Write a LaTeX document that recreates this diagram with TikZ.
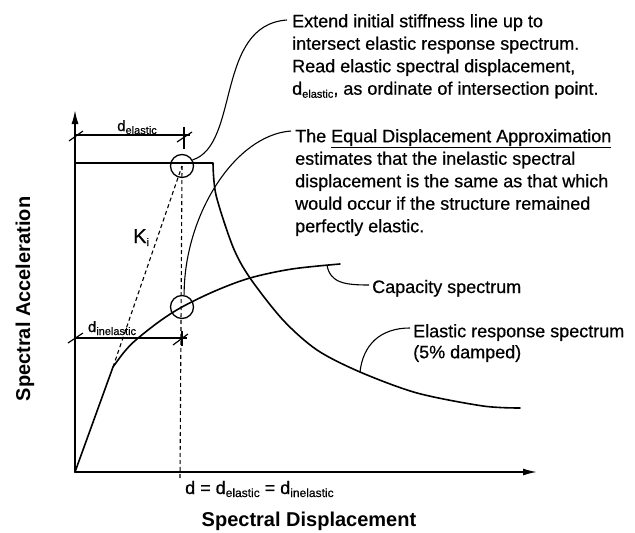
\documentclass[tikz,border=0pt]{standalone}
\usepackage{fontspec}
\setmainfont{Liberation Sans}
\newfontfamily\heavy{Liberation Sans}[FakeBold=0.6]
\usetikzlibrary{arrows.meta,calc}
\newcommand\dlabel[3][15]{{\fontsize{#1}{#1}\selectfont d}\raisebox{-3pt}{\fontsize{#2}{#2}\selectfont #3}}
\begin{document}
\begin{tikzpicture}[x=1pt,y=-1pt,
  curve/.style={line width=1.6pt, line join=round, line cap=round},
  leader/.style={line width=1.1pt},
  dim/.style={line width=1.2pt},
  guide/.style={line width=1.1pt, dash pattern=on 4pt off 3pt},
  txt/.style={font=\heavy\fontsize{18}{22.5}\selectfont, inner sep=0pt, align=left},
  small/.style={font=\heavy\fontsize{18}{21}\selectfont, inner sep=0pt, align=left},
  lab/.style={font=\heavy, inner sep=0pt},
  axlabel/.style={font=\bfseries\fontsize{20}{20}\selectfont, inner sep=0pt},
  ring/.style={circle, draw, line width=1.3pt, minimum size=23pt, inner sep=0pt},
  axarrow/.style={-{Latex[length=14pt,width=7pt]}}]
\useasboundingbox (0,0) rectangle (635,533);

% axes
\coordinate (O) at (75,472);
\coordinate (Ytip) at (75,110);
\coordinate (Xtip) at (537,472);
\draw[curve,axarrow] (O) -- (Ytip);
\draw[curve,axarrow] (O) -- (Xtip);

% circles
\node[ring] (ring1) at (182,166) {};
\node[ring] (ring2) at (182,307) {};

% elastic response spectrum
\coordinate (E0) at (75,163);
\draw[curve] (E0) -- plot[smooth,tension=0.5] coordinates {(213,163) (216,195) (233,247) (250,278) (283,320) (317,350) (360,372) (417,393) (483,406) (520,408)};

% capacity spectrum
\coordinate (knee) at (113,367);
\draw[curve] (O) -- plot[smooth,tension=0.55] coordinates {(113,367) (125,351) (137,339) (160,321) (182,307) (215,291) (250,278) (292,269) (340,264)};

% dashed guides
\draw[guide] (knee) -- (ring1.center);
\draw[guide] (ring1.center) -- (180,480);

% dimension d_elastic
\draw[dim] (75,135) -- (190,135);
\draw[dim] (69,141) -- (83,131);
\draw[dim] (177,142) -- (192,132);
\draw[dim] (184,127) -- (184,149);
\node[lab, anchor=base] (de) at (137,131) {\dlabel{11}{elastic}};

% dimension d_inelastic
\draw[dim] (75,338) -- (187,338);
\draw[dim] (68,343) -- (83,333);
\draw[dim] (173,345) -- (188,334);
\draw[dim] (182,331) -- (182,346);
\node[lab, anchor=base] (di) at (112,332) {\dlabel{11}{inelastic}};

% K_i
\node[lab, anchor=base west] (ki) at (133,243) {{\fontsize{20}{20}\selectfont K}\raisebox{-3pt}{\fontsize{11}{11}\selectfont i}};

% d = d_elastic = d_inelastic
\node[lab, anchor=base west] (deq) at (185,494) {{\fontsize{18}{18}\selectfont d = }\dlabel[18]{12}{elastic}{\fontsize{18}{18}\selectfont\ = }\dlabel[18]{12}{inelastic}};

% annotation texts
\node[txt, anchor=north west] (t1) at (292,14) {Extend initial stiffness line up to\\intersect elastic response spectrum.\\Read elastic spectral displacement,\\\dlabel[18]{11}{elastic}, as ordinate of intersection point.};
\node[txt, anchor=north west] (t2) at (295,129) {The \underline{Equal Displacement Approximation}\\estimates that the inelastic spectral\\displacement is the same as that which\\would occur if the structure remained\\perfectly elastic.};
\node[txt, anchor=base west] (t3) at (372,293) {Capacity spectrum};
\node[small, anchor=north west] (t4) at (413,324) {Elastic response spectrum\\(5\% damped)};

% leaders
\draw[leader] (ring1.30) .. controls (240,145) and (215,25) .. ($(t1.north west)+(-5,6)$);
\draw[leader] (ring2.80) .. controls (184,215) and (235,135) .. ($(t2.north west)+(-4,2)$);
\coordinate (capend) at (327,265);
\draw[leader] (capend) .. controls (330,283) and (345,285) .. ($(t3.base west)+(-3,-8)$);
\coordinate (elend) at (360,372);
\draw[leader] (elend) .. controls (363,345) and (380,328) .. ($(t4.north west)+(-3,4)$);

% axis labels
\node[axlabel, rotate=90] (ylab) at (25,299) {Spectral Acceleration};
\node[axlabel] (xlab) at (309,521) {Spectral Displacement};
\end{tikzpicture}
\end{document}
